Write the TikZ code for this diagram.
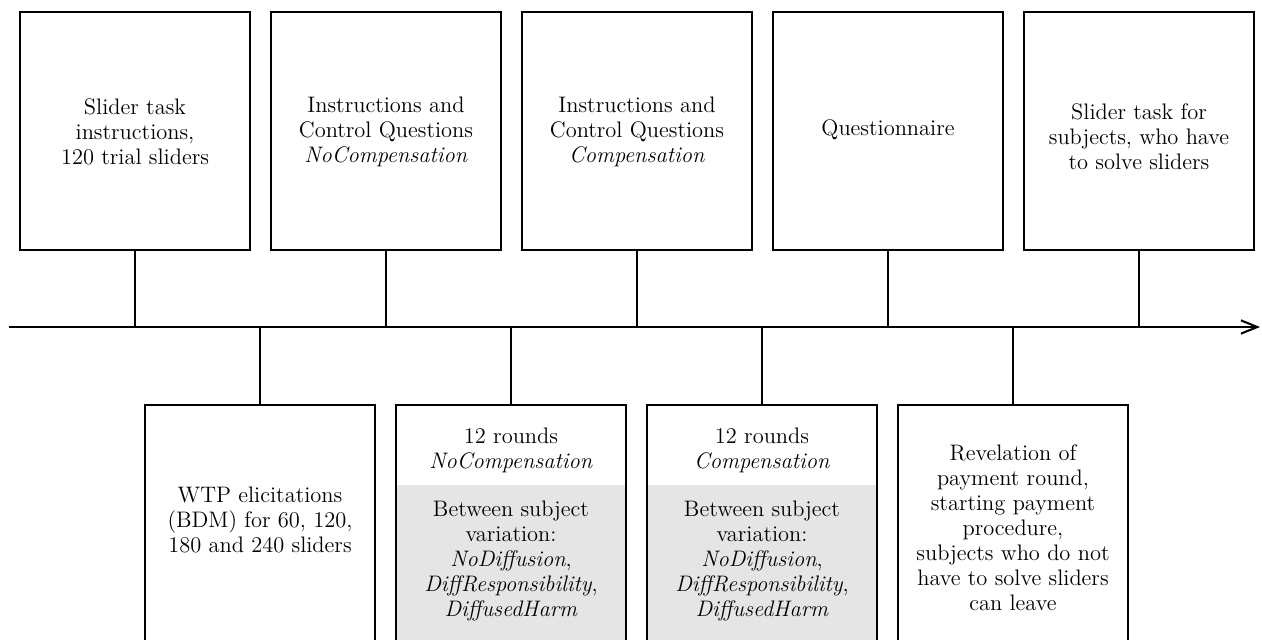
\documentclass[tikz,border=0pt]{standalone}
\usetikzlibrary{arrows.meta}
\begin{document}
\begin{tikzpicture}[x=0.4902pt,y=-0.4902pt,line width=1pt,
  topbox/.style={draw,rectangle,minimum width=113.2pt,minimum height=116.7pt,inner sep=0pt,outer sep=0pt},
  botbox/.style={draw,rectangle,minimum width=113.2pt,minimum height=125pt,inner sep=0pt,outer sep=0pt},
  txt/.style={align=center,inner sep=0pt,font=\fontsize{11pt}{12.25pt}\selectfont},
  shade/.style={fill=black!10}]
\useasboundingbox (0,0) rectangle (1262,640);
\clip (0,0) rectangle (1262,640);
% top boxes
\node[topbox] (t1) at (135,131) {};
\node[topbox] (t2) at (386,131) {};
\node[topbox] (t3) at (637,131) {};
\node[topbox] (t4) at (888,131) {};
\node[topbox] (t5) at (1139,131) {};
\node[txt] (l1) at (135,132) {Slider task\\instructions,\\120 trial sliders};
\node[txt] (l2) at (386,132) {Instructions and\\Control Questions\\\textit{NoCompensation}};
\node[txt] (l3) at (637,132) {Instructions and\\Control Questions\\\textit{Compensation}};
\node[txt] (l4) at (888,130) {Questionnaire};
\node[txt] (l5) at (1139,137) {Slider task for\\subjects, who have\\to solve sliders};
% axis
\coordinate (a0) at (9,327);
\coordinate (a1) at (1260,327);
\draw[-{Straight Barb[length=8pt,width=6.5pt]}] (a0) -- (a1);
% bottom boxes
\fill[shade] (397,485) rectangle (625,660);
\fill[shade] (648,485) rectangle (876,660);
\node[botbox] (b1) at (260,532.5) {};
\node[botbox] (b2) at (511,532.5) {};
\node[botbox] (b3) at (762,532.5) {};
\node[botbox] (b4) at (1013,532.5) {};
\node[txt] (m1) at (260,520) {WTP elicitations\\(BDM) for 60, 120,\\180 and 240 sliders};
\node[txt] (m2a) at (511,450) {12 rounds\\\textit{NoCompensation}};
\node[txt] (m2b) at (511,561) {Between subject\\variation:\\\textit{NoDiffusion},\\\textit{DiffResponsibility},\\\textit{DiffusedHarm}};
\node[txt] (m3a) at (762,450) {12 rounds\\\textit{Compensation}};
\node[txt] (m3b) at (762,561) {Between subject\\variation:\\\textit{NoDiffusion},\\\textit{DiffResponsibility},\\\textit{DiffusedHarm}};
\node[txt] (m4) at (1013,528) {Revelation of\\payment round,\\starting payment\\procedure,\\subjects who do not\\have to solve sliders\\can leave};
% connectors
\foreach \n in {t1,t2,t3,t4,t5} \draw (\n.south) -- (\n.south |- a0);
\foreach \n in {b1,b2,b3,b4} \draw (\n.north) -- (\n.north |- a0);
\end{tikzpicture}
\end{document}
